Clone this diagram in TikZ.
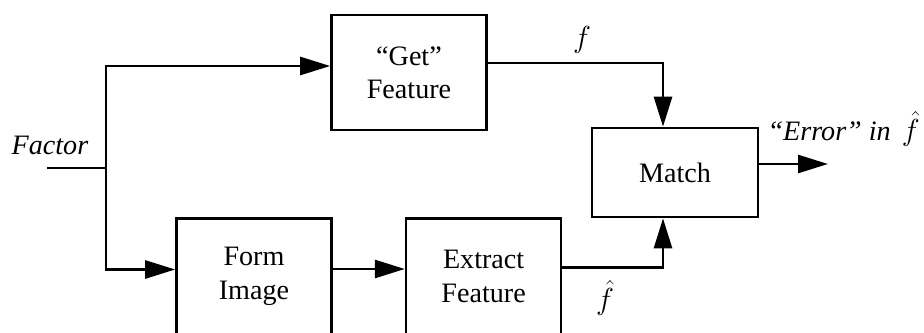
\documentclass[tikz,border=0pt]{standalone}
\usepackage{fontspec}
\setmainfont{Liberation Serif}
\usepackage{tikz}
\usetikzlibrary{positioning,arrows.meta,calc}

\begin{document}
\begin{tikzpicture}[
    node distance=1.44cm,
    blockbox/.style={rectangle, draw, line width=1.5pt, minimum width=3.1cm, minimum height=2.32cm, align=center, font=\fontsize{16}{19}\selectfont},
    arrow/.style={-{Triangle[length=0.6cm,width=0.36cm]}, line width=1.5pt},
    wire/.style={line width=1.5pt},
    lbl/.style={font=\fontsize{16}{19}\selectfont},
    mathlbl/.style={font=\fontsize{19}{22}\selectfont}
]
\clip (0,0) rectangle (18.48,-6.64);
\node[blockbox] (form) at (5.08,-5.53) {Form\\Image};
\node[blockbox, right=of form] (extract) {Extract\\Feature};
\node[blockbox, minimum height=2.3cm] (get) at (8.18,-1.45) {“Get”\\Feature};
\node[blockbox, minimum width=3.32cm, minimum height=1.78cm] (match) at (13.5,-3.45) {Match};

\coordinate (in) at (0.94,-3.36);
\coordinate (split) at (2.12,-3.36);
\coordinate (out) at (16.56,-3.28);

\node[lbl] (factor) at (1.0,-2.9) {\textit{Factor}};
\node[mathlbl] (flabel) at (11.64,-0.8) {$f$};
\node[mathlbl] (fhat) at (12.1,-5.95) {$\hat{f}$};
\node[lbl, anchor=east, inner sep=0pt] (error) at (18.4,-2.58) {\textit{“Error” in}\hspace{0.22cm}{\fontsize{18}{21}\selectfont$\hat{f}$}};

\draw[wire] (in) -- (split);
\draw[arrow] (split) |- ([yshift=0.13cm]get.west);
\draw[arrow] (split) |- ([yshift=0.14cm]form.west);
\draw[arrow] ([yshift=0.15cm]form.east) -- ([yshift=0.15cm]extract.west);
\draw[arrow] ([yshift=0.19cm]get.east) -| ([xshift=-0.24cm]match.north);
\draw[arrow] ([yshift=0.18cm]extract.east) -| ([xshift=-0.24cm]match.south);
\draw[arrow] ([yshift=0.17cm]match.east) -- (out);
\end{tikzpicture}
\end{document}
